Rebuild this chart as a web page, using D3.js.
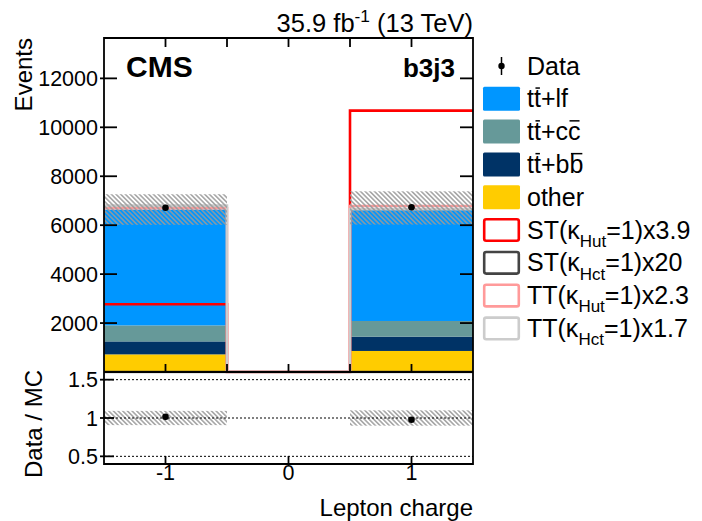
<!DOCTYPE html>
<html>
<head>
<meta charset="utf-8">
<script src="https://cdn.jsdelivr.net/npm/d3@7"></script>
<style>
  body { margin: 0; background: #fff; }
  svg { display: block; }
  text { font-family: "Liberation Sans", Arial, Helvetica, sans-serif; fill: #000; }
</style>
</head>
<body>
<svg id="chart" width="702" height="521"></svg>
<script>
// Lepton charge bins (centres and edges)
const binCentres = [-1, 0, 1];
const binEdges = [-1.5, -0.5, 0.5, 1.5];

// Background processes, events per bin
const other = [720, 0, 860];
const ttbb  = [530, 0, 585];
const ttcc  = [655, 0, 640];
const ttlf  = [4735, 0, 4620];
const mcUnc = [625, 0, 680];

// Observed data
const dataCounts = [6715, 0, 6730];

// Signal templates (scaled)
const stHut = [2770, 0, 10680];
const stHct = [0, 0, 0];
const ttHut = [6690, 0, 6785];
const ttHct = [6800, 0, 6650];

// Ratio panel
const ratioVals = [1.015, null, 0.978];
const ratioUnc  = [0.093, null, 0.1];

// Axis ticks
const yMainTicks = [2000, 4000, 6000, 8000, 10000, 12000];
const yRatioTicks = [0.5, 1, 1.5];
const xLabelTicks = [-1, 0, 1];
const xMinorTicks = [-1, -0.5, 0, 0.5, 1];

const colors = { other: "#ffcc00", ttbb: "#003366", ttcc: "#669999", ttlf: "#0096ff" };

const svg = d3.select("#chart");
const L = 104, R = 473, mainTop = 38, mainBot = 372, ratioBot = 464;
const FONT = 21.5;

const x = d3.scaleLinear().domain([-1.5, 1.5]).range([L, R]);
const y = d3.scaleLinear().domain([0, 13650]).range([mainBot, mainTop]);
const yr = d3.scaleLinear().domain([0.4, 1.6]).range([ratioBot, mainBot]);

// hatch pattern for the MC uncertainty
const defs = svg.append("defs");
const pat = defs.append("pattern").attr("id", "hatch").attr("patternUnits", "userSpaceOnUse")
  .attr("width", 3.3).attr("height", 10).attr("patternTransform", "rotate(-45)");
pat.append("line").attr("x1", 0.8).attr("y1", 0).attr("x2", 0.8).attr("y2", 10)
  .attr("stroke", "#9a9a9a").attr("stroke-width", 1.4);
defs.append("clipPath").attr("id", "clipMain").append("rect")
  .attr("x", L).attr("y", mainTop).attr("width", R - L).attr("height", mainBot - mainTop + 1.5);
defs.append("clipPath").attr("id", "clipRatio").append("rect")
  .attr("x", L).attr("y", mainBot).attr("width", R - L).attr("height", ratioBot - mainBot);

// ---------- main panel ----------
const gMain = svg.append("g").attr("clip-path", "url(#clipMain)");

const table = binCentres.map((c, i) => ({ bin: i, other: other[i], ttbb: ttbb[i], ttcc: ttcc[i], ttlf: ttlf[i] }));
const keys = ["other", "ttbb", "ttcc", "ttlf"];
const stacked = d3.stack().keys(keys)(table);

stacked.forEach(layer => {
  gMain.append("g").selectAll("rect")
    .data(layer.filter(d => d[1] - d[0] > 0))
    .join("rect")
    .attr("x", d => x(binEdges[d.data.bin]))
    .attr("width", d => x(binEdges[d.data.bin + 1]) - x(binEdges[d.data.bin]))
    .attr("y", d => y(d[1]))
    .attr("height", d => y(d[0]) - y(d[1]))
    .attr("fill", colors[layer.key]);
});

const totals = binCentres.map((c, i) => other[i] + ttbb[i] + ttcc[i] + ttlf[i]);

// signal step histograms
function stepPoints(vals) {
  const pts = [];
  vals.forEach((v, i) => { pts.push([binEdges[i], v]); pts.push([binEdges[i + 1], v]); });
  return pts;
}
const stepLine = d3.line().x(d => x(d[0])).y(d => y(d[1]));
const signals = [
  { vals: stHut, color: "#ff0000" },
  { vals: stHct, color: "#444444" },
  { vals: ttHut, color: "#ff9a9a" },
  { vals: ttHct, color: "#cccccc" }
];
signals.forEach(s => {
  gMain.append("path").attr("d", stepLine(stepPoints(s.vals)))
    .attr("fill", "none").attr("stroke", s.color).attr("stroke-width", 2.6);
});

// MC uncertainty band
gMain.append("g").selectAll("rect")
  .data(binCentres.map((c, i) => i).filter(i => totals[i] > 0))
  .join("rect")
  .attr("x", i => x(binEdges[i]))
  .attr("width", i => x(binEdges[i + 1]) - x(binEdges[i]))
  .attr("y", i => y(totals[i] + mcUnc[i]))
  .attr("height", i => y(totals[i] - mcUnc[i]) - y(totals[i] + mcUnc[i]))
  .attr("fill", "url(#hatch)");

// data points
const dataIdx = binCentres.map((c, i) => i).filter(i => dataCounts[i] > 0);
gMain.append("g").selectAll("line").data(dataIdx).join("line")
  .attr("x1", i => x(binCentres[i])).attr("x2", i => x(binCentres[i]))
  .attr("y1", i => y(dataCounts[i] + Math.sqrt(dataCounts[i])))
  .attr("y2", i => y(dataCounts[i] - Math.sqrt(dataCounts[i])))
  .attr("stroke", "#000").attr("stroke-width", 1.5);
gMain.append("g").selectAll("circle").data(dataIdx).join("circle")
  .attr("cx", i => x(binCentres[i])).attr("cy", i => y(dataCounts[i])).attr("r", 3.3).attr("fill", "#000");

// ---------- ratio panel ----------
const gRatio = svg.append("g").attr("clip-path", "url(#clipRatio)");
const ratioIdx = binCentres.map((c, i) => i).filter(i => ratioVals[i] != null);
gRatio.append("g").selectAll("rect").data(ratioIdx).join("rect")
  .attr("x", i => x(binEdges[i]))
  .attr("width", i => x(binEdges[i + 1]) - x(binEdges[i]))
  .attr("y", i => yr(1 + ratioUnc[i]))
  .attr("height", i => yr(1 - ratioUnc[i]) - yr(1 + ratioUnc[i]))
  .attr("fill", "url(#hatch)");
gRatio.append("g").selectAll("line").data(yRatioTicks).join("line")
  .attr("x1", L).attr("x2", R).attr("y1", d => yr(d)).attr("y2", d => yr(d))
  .attr("stroke", "#000").attr("stroke-width", 1).attr("stroke-dasharray", "2,2");
gRatio.append("g").selectAll("circle").data(ratioIdx).join("circle")
  .attr("cx", i => x(binCentres[i])).attr("cy", i => yr(ratioVals[i])).attr("r", 3.3).attr("fill", "#000");

// ---------- frames and ticks ----------
const axisG = svg.append("g").attr("stroke", "#000").attr("stroke-width", 1.8).attr("fill", "none");
axisG.append("path").attr("d", `M${L},${mainTop}H${R}V${ratioBot}H${L}Z`);
axisG.append("line").attr("x1", L).attr("x2", R).attr("y1", mainBot).attr("y2", mainBot);

// y ticks, main
yMainTicks.forEach(v => {
  axisG.append("line").attr("x1", L - 4).attr("x2", L + 13).attr("y1", y(v)).attr("y2", y(v));
  axisG.append("line").attr("x1", R - 13).attr("x2", R).attr("y1", y(v)).attr("y2", y(v));
});
// x ticks, main
xMinorTicks.forEach(v => {
  axisG.append("line").attr("x1", x(v)).attr("x2", x(v)).attr("y1", mainTop).attr("y2", mainTop + 9);
  axisG.append("line").attr("x1", x(v)).attr("x2", x(v)).attr("y1", mainBot - 8).attr("y2", mainBot);
});
// ratio ticks
yRatioTicks.forEach(v => {
  axisG.append("line").attr("x1", L - 4).attr("x2", L + 10).attr("y1", yr(v)).attr("y2", yr(v));
});
xLabelTicks.forEach(v => {
  axisG.append("line").attr("x1", x(v)).attr("x2", x(v)).attr("y1", ratioBot - 8).attr("y2", ratioBot);
});

// tick labels
const tl = svg.append("g").attr("font-size", FONT);
tl.selectAll("text.ym").data(yMainTicks).join("text").attr("class", "ym")
  .attr("x", L - 6).attr("y", d => y(d)).attr("dy", "0.36em").attr("text-anchor", "end").text(d => d);
tl.selectAll("text.yr").data(yRatioTicks).join("text").attr("class", "yr")
  .attr("x", L - 6).attr("y", d => yr(d)).attr("dy", "0.36em").attr("text-anchor", "end").text(d => d);
tl.selectAll("text.xl").data(xLabelTicks).join("text").attr("class", "xl")
  .attr("x", d => x(d)).attr("y", 480).attr("text-anchor", "middle").text(d => d);

// axis titles
svg.append("text").attr("transform", `translate(32,${mainTop}) rotate(-90)`)
  .attr("text-anchor", "end").attr("font-size", 24).text("Events");
svg.append("text").attr("transform", `translate(42,${(mainBot + ratioBot) / 2 + 6}) rotate(-90)`)
  .attr("text-anchor", "middle").attr("font-size", 24).text("Data / MC");
svg.append("text").attr("x", R).attr("y", 516).attr("text-anchor", "end").attr("font-size", 24).text("Lepton charge");

// rich text helper: sub/superscripts and overbars
function rich(parent, xPos, yPos, parts, size, anchor) {
  const t = parent.append("text").attr("x", xPos).attr("y", yPos).attr("font-size", size);
  if (anchor) t.attr("text-anchor", anchor);
  let shift = 0;
  const bars = [];
  parts.forEach(p => {
    const ts = t.append("tspan").text(p.t);
    const target = p.sub ? 0.33 * size : p.sup ? -0.38 * size : 0;
    if (p.sub || p.sup) ts.attr("font-size", size * 0.68);
    if (target !== shift) { ts.attr("dy", target - shift); shift = target; }
    if (p.bar) bars.push(ts);
  });
  bars.forEach(ts => {
    const ext = ts.node().getExtentOfChar(0);
    parent.append("line")
      .attr("x1", ext.x + 0.06 * size).attr("x2", ext.x + ext.width - 0.04 * size)
      .attr("y1", yPos - 0.77 * size).attr("y2", yPos - 0.77 * size)
      .attr("stroke", "#000").attr("stroke-width", 1.5);
  });
  return t;
}

// header texts
rich(svg, R, 32, [{ t: "35.9 fb" }, { t: "-1", sup: true }, { t: " (13 TeV)" }], 25.5, "end");
svg.append("text").attr("x", 126).attr("y", 77).attr("font-size", 30).attr("font-weight", "bold").text("CMS");
svg.append("text").attr("x", 455).attr("y", 77).attr("font-size", 26).attr("font-weight", "bold")
  .attr("text-anchor", "end").text("b3j3");

// ---------- legend ----------
const legendEntries = [
  { kind: "data", parts: [{ t: "Data" }] },
  { kind: "fill", color: colors.ttlf, parts: [{ t: "t" }, { t: "t", bar: true }, { t: "+lf" }] },
  { kind: "fill", color: colors.ttcc, parts: [{ t: "t" }, { t: "t", bar: true }, { t: "+c" }, { t: "c", bar: true }] },
  { kind: "fill", color: colors.ttbb, parts: [{ t: "t" }, { t: "t", bar: true }, { t: "+b" }, { t: "b", bar: true }] },
  { kind: "fill", color: colors.other, parts: [{ t: "other" }] },
  { kind: "line", color: "#ff0000", parts: [{ t: "ST(κ" }, { t: "Hut", sub: true }, { t: "=1)x3.9" }] },
  { kind: "line", color: "#444444", parts: [{ t: "ST(κ" }, { t: "Hct", sub: true }, { t: "=1)x20" }] },
  { kind: "line", color: "#ff9a9a", parts: [{ t: "TT(κ" }, { t: "Hut", sub: true }, { t: "=1)x2.3" }] },
  { kind: "line", color: "#cccccc", parts: [{ t: "TT(κ" }, { t: "Hct", sub: true }, { t: "=1)x1.7" }] }
];
const legG = svg.append("g");
const legX = 483, legW = 37, legH = 24, legY0 = 66, legDy = 32.8, LEGFONT = 25;
legendEntries.forEach((e, i) => {
  const cy = legY0 + i * legDy;
  if (e.kind === "data") {
    legG.append("line").attr("x1", legX + 18.5).attr("x2", legX + 18.5).attr("y1", cy - 9).attr("y2", cy + 9)
      .attr("stroke", "#000").attr("stroke-width", 1.5);
    legG.append("circle").attr("cx", legX + 18.5).attr("cy", cy).attr("r", 3.2).attr("fill", "#000");
  } else if (e.kind === "fill") {
    legG.append("rect").attr("x", legX).attr("y", cy - legH / 2).attr("width", legW).attr("height", legH)
      .attr("rx", 1.5).attr("fill", e.color);
  } else {
    legG.append("rect").attr("x", legX + 1.2).attr("y", cy - legH / 2 + 1.2).attr("width", legW - 2.4).attr("height", legH - 2.4)
      .attr("rx", 2).attr("fill", "#fff").attr("stroke", e.color).attr("stroke-width", 2.6);
  }
  rich(legG, 527, cy + 8.5, e.parts, LEGFONT);
});
</script>
</body>
</html>
